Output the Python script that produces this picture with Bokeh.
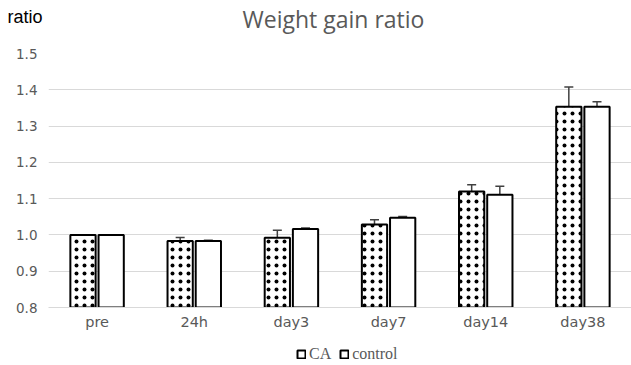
from bokeh.plotting import figure
from bokeh.models import (ColumnDataSource, FactorRange, Whisker, TeeHead, Label,
                          Legend, LegendItem, FixedTicker, NumeralTickFormatter)
from bokeh.transform import dodge
from bokeh.layouts import column
from bokeh.embed import file_html
from bokeh.resources import INLINE

categories = ["pre", "24h", "day3", "day7", "day14", "day38"]
ca_values = [1.000, 0.983, 0.992, 1.029, 1.120, 1.353]
ca_errors = [0.000, 0.010, 0.021, 0.013, 0.018, 0.055]
control_values = [1.000, 0.983, 1.016, 1.047, 1.111, 1.353]
control_errors = [0.000, 0.002, 0.003, 0.004, 0.023, 0.014]
y_ticks = [0.8, 0.9, 1.0, 1.1, 1.2, 1.3, 1.4, 1.5]
series_names = ["CA", "control"]
title_text = "Weight gain ratio"
unit_text = "ratio"

W = 631
LEFT = 48
TEXT_GRAY = "#595959"
GRID_GRAY = "#d9d9d9"


def strip_fig(h, with_left_axis=False):
    f = figure(width=W, height=h, x_range=(LEFT, W), y_range=(0, h), output_backend="svg",
               toolbar_location=None, x_axis_type=None,
               y_axis_type="linear" if with_left_axis else None,
               min_border_left=LEFT, min_border_right=0, min_border_top=0, min_border_bottom=0)
    f.outline_line_color = None
    f.xgrid.visible = False
    f.ygrid.visible = False
    f.background_fill_color = "white"
    f.border_fill_color = "white"
    return f


# ---------- top strip: title + unit label ----------
TOP_H = 45
top = strip_fig(TOP_H, with_left_axis=True)
top.add_layout(Label(x=333, y=TOP_H - 18, text=title_text,
                     text_font="Open Sans", text_font_size="23px", text_color=TEXT_GRAY,
                     text_align="center", text_baseline="middle"))
unit_y = TOP_H - 16
top.yaxis.ticker = FixedTicker(ticks=[unit_y])
top.yaxis.major_label_overrides = {unit_y: unit_text}
top.yaxis.axis_line_color = None
top.yaxis.major_tick_line_color = None
top.yaxis.minor_tick_line_color = None
top.yaxis.major_label_standoff = 0
top.yaxis.major_label_text_font = "Liberation Sans"
top.yaxis.major_label_text_font_size = "18px"
top.yaxis.major_label_text_color = "black"

# ---------- main chart ----------
src = ColumnDataSource(dict(
    cat=categories,
    ca=ca_values,
    ca_up=[v + e for v, e in zip(ca_values, ca_errors)],
    ca_lo=[v - e for v, e in zip(ca_values, ca_errors)],
    ctl=control_values,
    ctl_up=[v + e for v, e in zip(control_values, control_errors)],
    ctl_lo=[v - e for v, e in zip(control_values, control_errors)],
))

p = figure(width=W, height=290, x_range=FactorRange(*categories, range_padding=0),
           y_range=(0.8, 1.5), output_backend="svg", toolbar_location=None,
           min_border_left=LEFT, min_border_right=0, min_border_top=8, min_border_bottom=28)
p.outline_line_color = None
p.background_fill_color = "white"
p.border_fill_color = "white"

off = 0.145
bw = 0.26
p.vbar(x=dodge("cat", -off, range=p.x_range), top="ca", bottom=0.8, width=bw, source=src,
       fill_color="white", line_color="black", line_width=2,
       hatch_pattern="dot", hatch_color="black", hatch_scale=8, hatch_weight=0.6)
p.vbar(x=dodge("cat", off, range=p.x_range), top="ctl", bottom=0.8, width=bw, source=src,
       fill_color="white", line_color="black", line_width=2)

for base, up, lo in [(dodge("cat", -off, range=p.x_range), "ca_up", "ca_lo"),
                     (dodge("cat", off, range=p.x_range), "ctl_up", "ctl_lo")]:
    p.add_layout(Whisker(source=src, base=base, upper=up, lower=lo,
                         line_color="#404040", line_width=1.5,
                         upper_head=TeeHead(size=9, line_color="#404040", line_width=1.5),
                         lower_head=TeeHead(size=9, line_color="#404040", line_width=1.5)))

p.yaxis.ticker = FixedTicker(ticks=y_ticks)
p.yaxis.formatter = NumeralTickFormatter(format="0.0")
p.yaxis.axis_line_color = None
p.yaxis.major_tick_line_color = None
p.yaxis.minor_tick_line_color = None
p.yaxis.major_label_text_font = "DejaVu Sans"
p.yaxis.major_label_text_font_size = "13.5px"
p.yaxis.major_label_text_color = TEXT_GRAY
p.yaxis.major_label_standoff = 5

p.xaxis.axis_line_color = GRID_GRAY
p.xaxis.axis_line_width = 1
p.xaxis.major_tick_line_color = None
p.xaxis.major_label_text_font = "DejaVu Sans"
p.xaxis.major_label_text_font_size = "14.5px"
p.xaxis.major_label_text_color = TEXT_GRAY
p.xaxis.major_label_standoff = 0

p.xgrid.grid_line_color = None
p.ygrid.ticker = FixedTicker(ticks=y_ticks)
p.ygrid.grid_line_color = GRID_GRAY
p.ygrid.grid_line_width = 1

# ---------- bottom strip: legend ----------
LEG_H = 30
leg = strip_fig(LEG_H)
proxy = ColumnDataSource(dict(x=[0], top=[0]))
r_ca = leg.vbar(x="x", top="top", width=1, source=proxy, fill_color="white",
                line_color="black", line_width=2, visible=False)
r_ctl = leg.vbar(x="x", top="top", width=1, source=proxy, fill_color="white",
                 line_color="black", line_width=2, visible=False)
legend = Legend(items=[LegendItem(label=series_names[0], renderers=[r_ca]),
                       LegendItem(label=series_names[1], renderers=[r_ctl])],
                orientation="horizontal", location=(296 - LEFT, 2),
                label_text_font="Liberation Serif", label_text_font_size="16px",
                label_text_color=TEXT_GRAY, glyph_width=10, glyph_height=10,
                label_height=16, label_width=10, spacing=8, label_standoff=3,
                padding=0, margin=0, border_line_color=None, background_fill_alpha=0,
                inactive_fill_alpha=0)
leg.add_layout(legend)

layout = column(top, p, leg, spacing=0)
open("out.html", "w").write(file_html(layout, INLINE))
